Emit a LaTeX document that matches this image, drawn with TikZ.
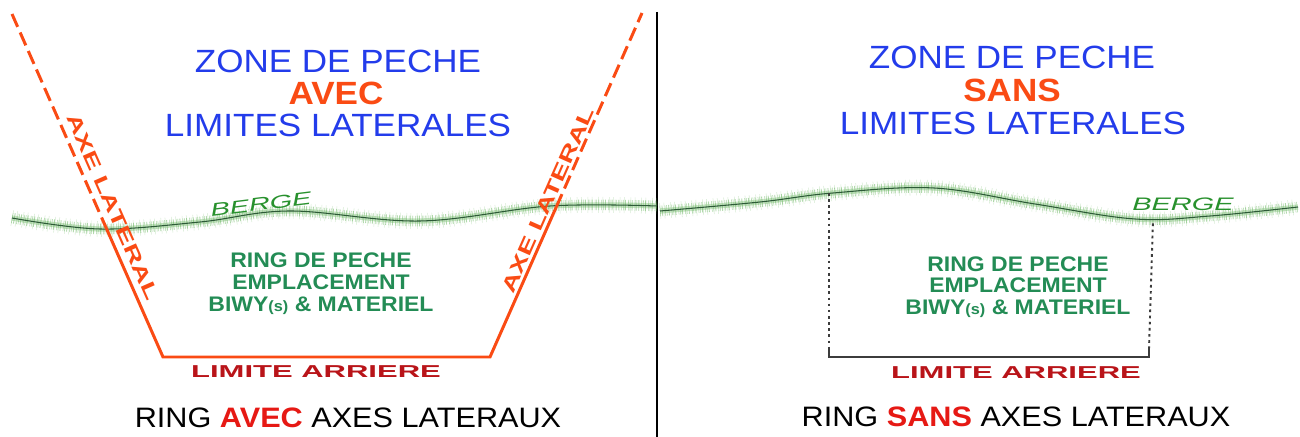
\documentclass[tikz,border=0pt]{standalone}
\usepackage{fontspec}
\setmainfont{Liberation Sans}
\newfontfamily\ringsf[FakeStretch=1.09]{Liberation Sans}
\newfontfamily\axesf[FakeStretch=1.5]{Liberation Sans}
\newfontfamily\bergesf[FakeStretch=1.6]{Liberation Sans}
\newfontfamily\limsf[FakeStretch=1.8]{Liberation Sans}
\usetikzlibrary{calc}
\definecolor{titreblue}{RGB}{35,60,235}
\definecolor{axeorange}{RGB}{250,75,20}
\definecolor{avecred}{RGB}{230,25,20}
\definecolor{limred}{RGB}{185,20,25}
\definecolor{ringgreen}{RGB}{35,140,85}
\definecolor{bergegreen}{RGB}{40,145,45}
\definecolor{grassgreen}{RGB}{100,180,90}
\definecolor{rivedark}{RGB}{45,90,55}
\definecolor{boxgray}{RGB}{60,60,60}

\begin{document}
\begin{tikzpicture}[x=0.2mm, y=-0.2mm,
    titre/.style={anchor=base, inner sep=0pt, text=titreblue, font=\ringsf\fontsize{18.3}{20}\selectfont},
    titremot/.style={anchor=base, inner sep=0pt, text=axeorange, font=\ringsf\bfseries\fontsize{18.3}{20}\selectfont},
    ringtxt/.style={anchor=base, inner sep=0pt, text=ringgreen, font=\ringsf\bfseries\fontsize{12}{12}\selectfont},
    limite/.style={anchor=base, inner sep=0pt, text=limred, font=\limsf\bfseries\fontsize{9.8}{10}\selectfont},
    legende/.style={anchor=base, inner sep=0pt, font=\ringsf\fontsize{16}{18}\selectfont},
    bergetxt/.style={inner sep=0pt, text=bergegreen, font=\bergesf\itshape\fontsize{10.3}{11}\selectfont},
    axetxt/.style={inner sep=0pt, text=axeorange, font=\axesf\bfseries\fontsize{11}{12}\selectfont},
    axe/.style={draw=axeorange, line width=1.7pt},
    axetir/.style={axe, dash pattern=on 8pt off 3.5pt},
    berge/.style={draw=rivedark, line width=0.6pt,
        preaction={draw=grassgreen, line width=3pt, opacity=0.35},
        preaction={draw=grassgreen, line width=6pt, opacity=0.5, dash pattern=on 0.3pt off 0.8pt on 0.5pt off 1.3pt on 0.3pt off 0.6pt},
        preaction={draw=grassgreen, line width=9pt, opacity=0.25, dash pattern=on 0.3pt off 2.1pt on 0.3pt off 3.4pt}},
    pointille/.style={draw=boxgray, line width=1.1pt, dash pattern=on 1.5pt off 2pt},
    cadre/.style={draw=boxgray, line width=1.1pt}]

    \useasboundingbox (0,0) rectangle (1300,437);
    \fill[white] (0,0) rectangle (1300,437);

    % 中间分隔线
    \draw[line width=1.7pt] (657,12) -- (657,437);

    % 河岸 BERGE
    \draw[berge] plot[smooth, tension=0.6] coordinates {(12,218) (100,229) (200,222) (290,211) (420,221) (550,206) (657,206)};
    \draw[berge] plot[smooth, tension=0.6] coordinates {(660,211) (760,202) (833,193) (934,188) (1035,204) (1135,219) (1210,216) (1298,207)};
    \node[bergetxt, rotate=7] (bergeG) at (261,204) {BERGE};
    \node[bergetxt, anchor=base] (bergeD) at (1183,211) {BERGE};

    % 左侧：侧轴与后界
    \coordinate (LT) at (12,14);
    \coordinate (LB) at (163,357);
    \coordinate (RB) at (490,357);
    \coordinate (RT) at (642,13);
    \coordinate (LX) at ($(LT)!0.627!(LB)$);
    \coordinate (RX) at ($(RB)!0.436!(RT)$);
    \draw[axetir] (LT) -- (LX);
    \draw[axe] (LX) -- (LB) -- (RB) -- (RX);
    \draw[axetir] (RX) -- (RT);
    \node[axetxt, rotate=-66.2] (axeG) at (113,207) {AXE LATERAL};
    \node[axetxt, rotate=66.1] (axeD) at (548,200) {AXE LATERAL};

    % 右侧：虚线框
    \coordinate (BG) at (829,193);
    \coordinate (BGb) at (829,357);
    \coordinate (BD) at (1153,220);
    \coordinate (BDb) at (1149,357);
    \draw[pointille] (BG) -- ($(BGb)+(0,-8)$);
    \draw[cadre] ($(BGb)+(0,-8)$) -- (BGb) -- (BDb) -- ($(BDb)+(0,-8)$);
    \draw[pointille] ($(BDb)+(0,-8)$) -- (BD);

    % 标题
    \node[titre] (zoneG) at (338,73) {ZONE DE PECHE};
    \node[titremot] (avecG) at (336,105) {AVEC};
    \node[titre] (limG) at (338,137) {LIMITES LATERALES};
    \node[titre] (zoneD) at (1012,69) {ZONE DE PECHE};
    \node[titremot] (sansD) at (1012,102) {SANS};
    \node[titre] (limD) at (1013,135) {LIMITES LATERALES};

    % 钓位文字
    \node[ringtxt] (ringG1) at (321,268) {RING DE PECHE};
    \node[ringtxt] (ringG2) at (321,290) {EMPLACEMENT};
    \node[ringtxt] (ringG3) at (321,312) {BIWY{\fontsize{8.5}{9}\selectfont(s)} \& MATERIEL};
    \node[ringtxt] (ringD1) at (1018,272) {RING DE PECHE};
    \node[ringtxt] (ringD2) at (1018,293) {EMPLACEMENT};
    \node[ringtxt] (ringD3) at (1018,315) {BIWY{\fontsize{8.5}{9}\selectfont(s)} \& MATERIEL};

    % 后界与图注
    \node[limite] (limiteG) at (316,378) {LIMITE ARRIERE};
    \node[limite] (limiteD) at (1016,379) {LIMITE ARRIERE};
    \node[legende] (legG) at (348,428) {RING {\bfseries\color{avecred}AVEC} AXES LATERAUX};
    \node[legende] (legD) at (1016,427) {RING {\bfseries\color{avecred}SANS} AXES LATERAUX};
\end{tikzpicture}
\end{document}
